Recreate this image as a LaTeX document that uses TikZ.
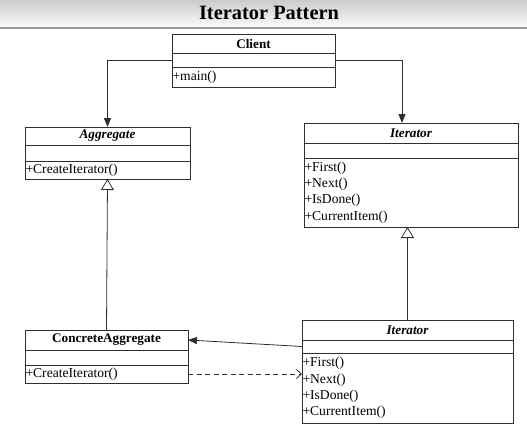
\documentclass[tikz,border=0pt]{standalone}
\usepackage{fontspec}
\setmainfont{Liberation Serif}
\usetikzlibrary{arrows.meta, positioning}
\definecolor{umlline}{HTML}{2E2E2E}
\definecolor{bannerline}{HTML}{9A9A9A}
\tikzset{
	chead/.style={draw=umlline, line width=0.8pt, outer sep=0pt, inner sep=0pt,
		minimum width=#1, font=\fontsize{13.2}{15}\selectfont\bfseries},
	cpart/.style={draw=umlline, line width=0.8pt, outer sep=0pt, inner xsep=0.5pt,
		inner ysep=0pt, text width=#1, align=left, font=\fontsize{13.6}{16.4}\selectfont},
	assoc/.style={-{Triangle[length=9pt, width=7pt]}, line width=0.8pt, draw=umlline},
	inherit/.style={-{Triangle[open, length=11pt, width=13pt]}, line width=0.8pt, draw=umlline},
	dep/.style={-{Straight Barb[length=5pt, width=9pt]}, dash pattern=on 5pt off 3.5pt,
		line width=0.8pt, draw=umlline}
}
\begin{document}
\begin{tikzpicture}[x=1pt, y=-1pt]
	\useasboundingbox (0,0) rectangle (527,428);
	% title banner
	\shade[top color=gray!40, bottom color=gray!4] (0,0) rectangle (527,27);
	\draw[bannerline, line width=2pt] (0,28) -- (527,28);
	\node[font=\fontsize{20.4}{24}\selectfont\bfseries] (ttl) at (269,13) {Iterator Pattern};

	% Client
	\node[chead=163pt, minimum height=19pt, anchor=north west] (cl) at (172,34) {Client};
	\node[cpart=162pt, minimum height=14pt, below=0pt of cl] (clA) {};
	\node[cpart=162pt, minimum height=20pt, below=0pt of clA] (clM) {+main()};

	% Aggregate
	\node[chead=165pt, minimum height=18pt, anchor=north west] (agg) at (25,127) {\itshape Aggregate};
	\node[cpart=164pt, minimum height=16pt, below=0pt of agg] (aggA) {};
	\node[cpart=164pt, minimum height=18pt, below=0pt of aggA] (aggM) {+CreateIterator()};

	% Iterator
	\node[chead=214pt, minimum height=20pt, anchor=north west] (itr) at (304,123) {\itshape Iterator};
	\node[cpart=213pt, minimum height=15pt, below=0pt of itr] (itrA) {};
	\node[cpart=213pt, minimum height=69pt, below=0pt of itrA] (itrM)
		{+First()\\+Next()\\+IsDone()\\+CurrentItem()};

	% ConcreteAggregate
	\node[chead=163pt, minimum height=20pt, anchor=north west] (cagg) at (25,330) {ConcreteAggregate};
	\node[cpart=162pt, minimum height=15pt, below=0pt of cagg] (caggA) {};
	\node[cpart=162pt, minimum height=18pt, below=0pt of caggA] (caggM) {+CreateIterator()};

	% concrete Iterator
	\node[chead=211pt, minimum height=20pt, anchor=north west] (citr) at (302,320) {\itshape Iterator};
	\node[cpart=210pt, minimum height=13pt, below=0pt of citr] (citrA) {};
	\node[cpart=210pt, minimum height=70pt, below=0pt of citrA] (citrM)
		{+First()\\+Next()\\+IsDone()\\+CurrentItem()};

	% connectors
	\draw[assoc] (clA.west) -| (agg.north);
	\draw[assoc] (clA.east) -| ([xshift=-9pt]itr.north);
	\draw[inherit] (cagg.north) -- (aggM.south);
	\draw[inherit] (citr.north) -- (citr.north |- itrM.south);
	\draw[assoc] (citrA.west) -- (cagg.east);
	\draw[dep] (caggM.east) -- (caggM.east -| citrM.west);
\end{tikzpicture}
\end{document}
